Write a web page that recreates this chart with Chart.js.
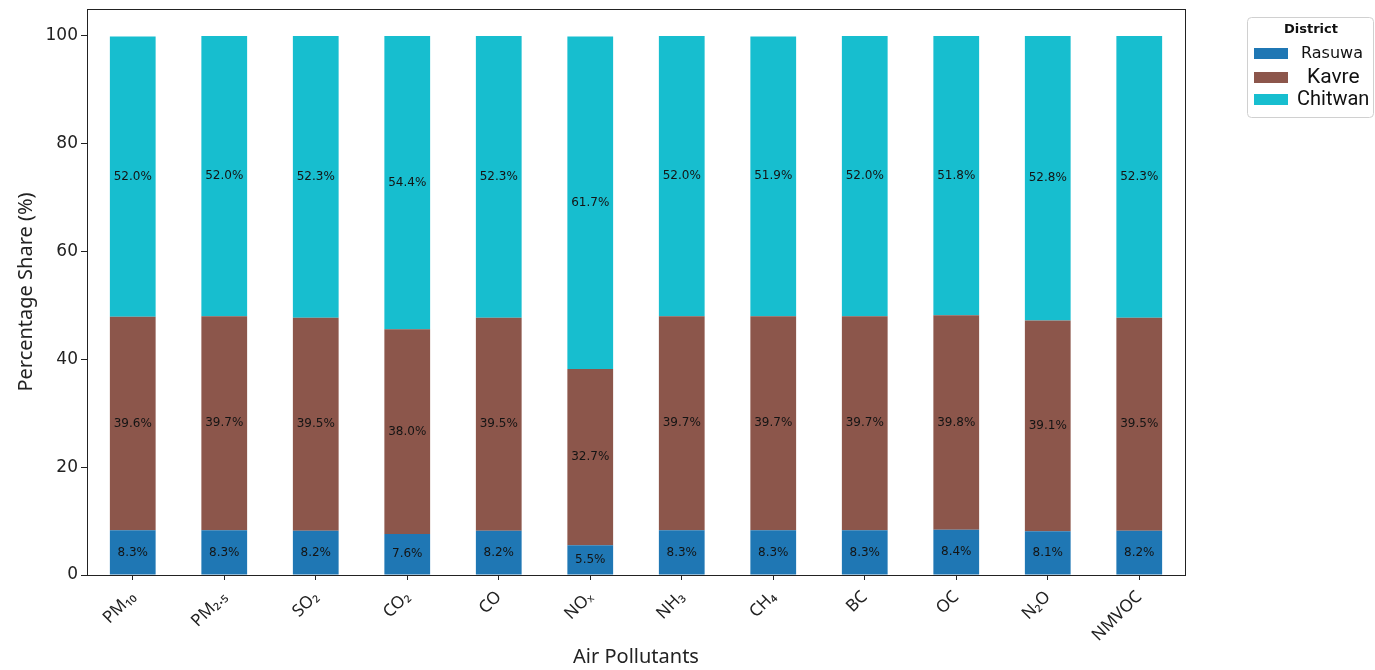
<!DOCTYPE html>
<html>
<head>
<meta charset="utf-8">
<title>Air Pollutant Share by District</title>
<script src="https://cdn.jsdelivr.net/npm/chart.js@4.4.1/dist/chart.umd.min.js"></script>
<style>
  html, body { margin: 0; padding: 0; background: #ffffff; }
  #wrap { width: 1375px; height: 670px; }
</style>
</head>
<body>
<div id="wrap"><canvas id="chart" width="1375" height="670"></canvas></div>
<script>
// Pollutant categories (x axis)
const pollutants = ['PM₁₀', 'PM₂.₅', 'SO₂', 'CO₂', 'CO', 'NOₓ', 'NH₃', 'CH₄', 'BC', 'OC', 'N₂O', 'NMVOC'];

// Percentage share of each district
const rasuwa  = [8.3, 8.3, 8.2, 7.6, 8.2, 5.5, 8.3, 8.3, 8.3, 8.4, 8.1, 8.2];
const kavre   = [39.6, 39.7, 39.5, 38.0, 39.5, 32.7, 39.7, 39.7, 39.7, 39.8, 39.1, 39.5];
const chitwan = [52.0, 52.0, 52.3, 54.4, 52.3, 61.7, 52.0, 51.9, 52.0, 51.8, 52.8, 52.3];

// Y axis ticks
const yTicks = [0, 20, 40, 60, 80, 100];

const districts = ['Rasuwa', 'Kavre', 'Chitwan'];
const colors = ['#1f77b4', '#8c564b', '#17becf'];

// Percent labels centred in each stacked segment
const segmentLabels = {
  id: 'segmentLabels',
  afterDatasetsDraw(chart) {
    const ctx = chart.ctx;
    ctx.save();
    ctx.font = '12px "DejaVu Sans"';
    ctx.fillStyle = '#141414';
    ctx.textAlign = 'center';
    ctx.textBaseline = 'middle';
    chart.data.datasets.forEach((ds, i) => {
      const meta = chart.getDatasetMeta(i);
      meta.data.forEach((bar, j) => {
        const y = (bar.y + bar.base) / 2;
        ctx.fillText(ds.data[j].toFixed(1) + '%', bar.x, y);
      });
    });
    ctx.restore();
  }
};

// Full frame around the plotting area
const frame = {
  id: 'frame',
  afterDraw(chart) {
    const { left, right, top, bottom } = chart.chartArea;
    const ctx = chart.ctx;
    ctx.save();
    ctx.strokeStyle = '#222';
    ctx.lineWidth = 1;
    ctx.strokeRect(Math.round(left) + 0.5, Math.round(top) + 0.5,
                   Math.round(right - left), Math.round(bottom - top));
    ctx.restore();
  }
};

// Legend box with title at the upper right
const districtLegend = {
  id: 'districtLegend',
  afterDraw(chart) {
    const ctx = chart.ctx;
    ctx.save();
    const bx = 1247.5, by = 17.5, bw = 126, bh = 100, r = 4;
    ctx.beginPath();
    ctx.moveTo(bx + r, by);
    ctx.lineTo(bx + bw - r, by);
    ctx.quadraticCurveTo(bx + bw, by, bx + bw, by + r);
    ctx.lineTo(bx + bw, by + bh - r);
    ctx.quadraticCurveTo(bx + bw, by + bh, bx + bw - r, by + bh);
    ctx.lineTo(bx + r, by + bh);
    ctx.quadraticCurveTo(bx, by + bh, bx, by + bh - r);
    ctx.lineTo(bx, by + r);
    ctx.quadraticCurveTo(bx, by, bx + r, by);
    ctx.closePath();
    ctx.fillStyle = 'rgba(255,255,255,0.9)';
    ctx.fill();
    ctx.strokeStyle = '#d0d0d0';
    ctx.lineWidth = 1;
    ctx.stroke();

    ctx.fillStyle = '#111';
    ctx.textBaseline = 'middle';
    ctx.textAlign = 'center';
    ctx.font = 'bold 13px "DejaVu Sans"';
    ctx.fillText('District', 1311, 30);

    const rows = [
      { y: 53, font: '16px "DejaVu Sans"', tx: 1301 },
      { y: 77, font: '21px Roboto', tx: 1307 },
      { y: 99, font: '20px Roboto', tx: 1297 }
    ];
    ctx.textAlign = 'left';
    rows.forEach((row, i) => {
      ctx.fillStyle = colors[i];
      ctx.fillRect(1254, row.y - 5, 34, 11);
      ctx.fillStyle = '#111';
      ctx.font = row.font;
      ctx.fillText(districts[i], row.tx, row.y + 1);
    });
    ctx.restore();
  }
};

const series = [rasuwa, kavre, chitwan];

new Chart(document.getElementById('chart'), {
  type: 'bar',
  data: {
    labels: pollutants,
    datasets: series.map((values, i) => ({
      label: districts[i],
      data: values,
      backgroundColor: colors[i],
      borderWidth: 0,
      barPercentage: 0.5,
      categoryPercentage: 1.0
    }))
  },
  options: {
    responsive: false,
    animation: false,
    layout: { padding: { top: 9, right: 190, left: 0, bottom: 0 } },
    plugins: {
      legend: { display: false },
      tooltip: { enabled: false }
    },
    scales: {
      x: {
        stacked: true,
        offset: true,
        grid: { display: true, drawOnChartArea: false, offset: false, tickLength: 5, color: '#222' },
        border: { display: false },
        ticks: {
          autoSkip: false,
          minRotation: 45,
          maxRotation: 45,
          padding: 7,
          color: '#222',
          font: { family: '"Noto Sans"', size: 17 }
        },
        title: {
          display: true,
          text: 'Air Pollutants',
          color: '#222',
          font: { family: '"Noto Sans"', size: 20 },
          padding: { top: 0, bottom: 1 }
        },
        afterFit(scale) {
          scale.height = 95;
          scale.paddingLeft = 0;
          scale.paddingRight = 0;
        }
      },
      y: {
        stacked: true,
        min: 0,
        max: 105,
        afterBuildTicks(scale) { scale.ticks = yTicks.map(v => ({ value: v })); },
        grid: { display: true, drawOnChartArea: false, tickLength: 6, color: '#222' },
        border: { display: false },
        ticks: {
          padding: 3,
          color: '#222',
          font: { family: '"DejaVu Sans"', size: 17 }
        },
        title: {
          display: true,
          text: 'Percentage Share (%)',
          color: '#222',
          font: { family: '"Noto Sans"', size: 20 },
          padding: { top: 14, bottom: 0 }
        },
        afterFit(scale) {
          scale.width = 87;
          scale.paddingTop = 0;
          scale.paddingBottom = 0;
        }
      }
    }
  },
  plugins: [segmentLabels, frame, districtLegend]
});
</script>
</body>
</html>
